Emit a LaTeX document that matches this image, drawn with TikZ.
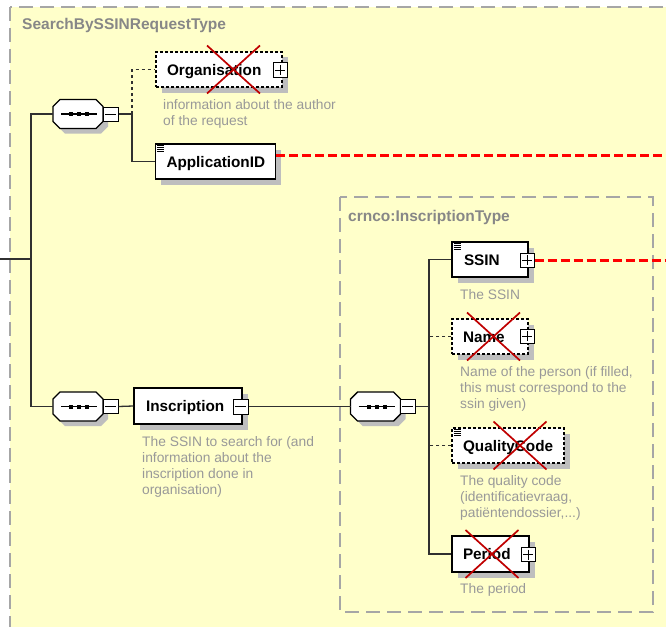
\documentclass[tikz,border=0pt]{standalone}
\usepackage{fontspec}
\setmainfont{Liberation Sans}
\usetikzlibrary{calc,shadows}
\definecolor{bgyellow}{HTML}{FFFFCA}
\definecolor{framegray}{HTML}{A6A6A6}
\definecolor{shadowgray}{HTML}{BEBEBE}
\definecolor{titlegray}{HTML}{878787}
\definecolor{descgray}{HTML}{999999}
\definecolor{xred}{HTML}{C00000}
\definecolor{linered}{HTML}{FF0000}
\definecolor{linegray}{HTML}{303030}
\tikzset{
  frame/.style={draw=framegray, line width=1.3pt, dash pattern=on 14pt off 7pt, fill=bgyellow},
  elem/.style={draw=black, line width=1.5pt, fill=white,
    general shadow={fill=shadowgray, shadow xshift=5.5pt, shadow yshift=-5.5pt},
    minimum height=35pt, inner xsep=11pt, inner ysep=0pt, text height=11pt, text depth=0pt,
    align=left, font=\fontsize{15.3}{18}\selectfont\bfseries, anchor=center},
  optional/.style={dash pattern=on 3pt off 2pt},
  pmbox/.style={draw=black, line width=1pt, fill=white, minimum width=14pt, minimum height=14pt, inner sep=0pt},
  plusbox/.style={pmbox, path picture={
      \draw[line width=1pt] ([yshift=-2pt]path picture bounding box.north) -- ([yshift=2pt]path picture bounding box.south);
      \draw[line width=1pt] ([xshift=2pt]path picture bounding box.west) -- ([xshift=-2pt]path picture bounding box.east);}},
  minusbox/.style={pmbox, path picture={
      \draw[line width=1pt] ([xshift=2pt]path picture bounding box.west) -- ([xshift=-2pt]path picture bounding box.east);}},
  seqnode/.style={draw=none, minimum width=50pt, minimum height=29pt, inner sep=0pt, outer sep=0pt},
  conn/.style={draw=linegray, line width=1.3pt},
  dconn/.style={conn, dash pattern=on 3pt off 3pt},
  reddash/.style={draw=linered, line width=3pt, dash pattern=on 9pt off 4pt},
  redx/.style={draw=xred, line width=1.7pt},
  desc/.style={text=descgray, font=\fontsize{13.8}{16}\selectfont, align=left, anchor=north west, inner sep=0pt},
  title/.style={text=titlegray, font=\fontsize{15.5}{18}\selectfont\bfseries, anchor=base west, inner sep=0pt},
}
\newcommand\seqshape[1]{%
  \begin{scope}[shift={(#1.center)}]
    \fill[shadowgray] (-20,-2.5) -- (-13,-9.5) -- (23,-9.5) -- (30,-2.5) -- (30,12.5) -- (23,19.5) -- (-13,19.5) -- (-20,12.5) -- cycle;
    \draw[line width=1.4pt, fill=white] (-25,-7.5) -- (-18,-14.5) -- (18,-14.5) -- (25,-7.5) -- (25,7.5) -- (18,14.5) -- (-18,14.5) -- (-25,7.5) -- cycle;
    \draw[line width=1.2pt] (-17,0) -- (19,0);
    \fill (-9,-2) rectangle ++(4,4);
    \fill (-1,-2) rectangle ++(4,4);
    \fill (7,-2) rectangle ++(4,4);
  \end{scope}}
\newcommand\docicon[1]{%
  \foreach \k in {0,1,2,3}
    \draw[line width=0.6pt] ($(#1.north west)+(2.5,2.5+2*\k)$) -- ++(7,0);}
\newcommand\redcross[2]{%
  \draw[redx] ($(#1.center)+(#2-26.5,-24)$) -- ++(53,48);
  \draw[redx] ($(#1.center)+(#2+26.5,-24)$) -- ++(-53,48);}
\begin{document}
\begin{tikzpicture}[x=1pt, y=-1pt]
\useasboundingbox (0,0) rectangle (666,626);
% outer type frame
\path[frame] (10,7) rectangle (680,640);
\node[title] (t1) at (22,30) {SearchBySSINRequestType};
% inner type frame
\path[frame] (340,197) rectangle (653,612);
\node[title] (t2) at (348,221) {crnco:InscriptionType};

% compositors
\node[seqnode] (s1) at (78,114) {};
\node[seqnode] (s2) at (78,406.5) {};
\node[seqnode] (s3) at (375.5,406.5) {};
\seqshape{s1}
\seqshape{s2}
\seqshape{s3}
\node[minusbox, minimum width=15pt] (s1m) at (110.5,114) {};
\node[minusbox, minimum width=15pt] (s2m) at (110.5,406.5) {};
\node[minusbox, minimum width=15pt] (s3m) at (407.5,406.5) {};

% elements
\node[elem, optional, text width=104pt] (org) at (219,69.5) {Organisation};
\node[elem, text width=98pt] (app) at (215.5,161.5) {ApplicationID};
\node[elem, text width=84pt, inner xsep=12pt, minimum height=36pt] (insc) at (188,406) {Inscription};
\node[elem, text width=52pt, inner xsep=12pt] (ssin) at (490,259.5) {SSIN};
\node[elem, optional, text width=54pt] (name) at (490,336.5) {Name};
\node[elem, optional, text width=90pt] (qc) at (508,445.5) {QualityCode};
\node[elem, text width=55pt, minimum height=36pt] (period) at (490.5,554) {Period};
\docicon{app}
\docicon{ssin}
\docicon{qc}

% expand / collapse boxes
\node[plusbox] (orgp) at (280,70) {};
\node[minusbox, minimum width=15pt, minimum height=15pt] (inscm) at (240.5,406.5) {};
\node[plusbox] (ssinp) at (527,260) {};
\node[plusbox] (namep) at (527,336) {};
\node[plusbox] (periodp) at (528,554.5) {};

% connectors
\coordinate (entry) at (0,259);
\coordinate (spine) at (31,259);
\coordinate (b1) at (132,114);
\coordinate (b3) at (429,406.5);
\draw[conn] (entry) -- (spine);
\draw[conn] (s1.west) -| (spine) |- (s2.west);
\draw[conn] (s1m.east) -- (b1) |- (app.west);
\draw[dconn] (b1) |- (org.west);
\draw[conn] (s2m.east) -- (insc.west);
\draw[conn] (inscm.east) -- (s3.west);
\draw[conn] (s3m.east) -- (b3);
\draw[conn] (ssin.west) -| (b3) |- (period.west);
\draw[dconn] (name.west) -- (name.west -| b3);
\draw[dconn] (qc.west) -- (qc.west -| b3);

% red dashed links
\coordinate (append) at (680,155);
\coordinate (ssinend) at (680,260);
\draw[reddash] (app.east |- append) -- (append);
\draw[reddash] (ssinp.east) -- (ssinend);

% descriptions
\node[desc] (orgd) at (163,99) {information about the author\\of the request};
\node[desc] (inscd) at (142,436) {The SSIN to search for (and\\information about the\\inscription done in\\organisation)};
\node[desc] (ssind) at (460,289) {The SSIN};
\node[desc] (named) at (460,366) {Name of the person (if filled,\\this must correspond to the\\ssin given)};
\node[desc] (qcd) at (460,475) {The quality code\\(identificatievraag,\\patiëntendossier,...)};
\node[desc] (periodd) at (460,583) {The period};

% red crosses
\redcross{org}{14.5}
\redcross{name}{3.5}
\redcross{qc}{12}
\redcross{period}{1.5}
\end{tikzpicture}
\end{document}
